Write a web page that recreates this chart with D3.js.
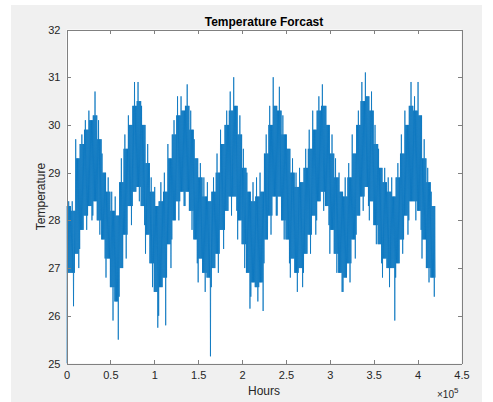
<!DOCTYPE html>
<html>
<head>
<meta charset="utf-8">
<script src="https://cdn.jsdelivr.net/npm/d3@7/dist/d3.min.js"></script>
<style>
  html, body { margin: 0; padding: 0; background: #ffffff; }
  svg { display: block; }
  text { font-family: "Liberation Sans", Arial, Helvetica, sans-serif; }
</style>
</head>
<body>
<svg id="chart" width="493" height="402"></svg>
<script>
// Hourly temperature record, summarised per 5000-hour block:
// spikeHigh/spikeLow = extreme excursions, bandTop/bandBottom = edges of the dense band.
const blockHours = 5000;
const spikeHigh = [28.4,28.4,29.7,29.8,30.1,30.3,30.7,30.1,29.4,28.9,28.6,28.5,29.3,29.8,30.2,30.9,30.9,30.4,29.6,28.9,
             28.7,28.8,29.0,29.6,30.1,30.6,30.6,30.85,30.3,29.7,29.2,28.9,28.8,28.9,29.4,29.9,30.3,30.7,31.0,30.2,
             29.5,29.0,28.8,28.9,29.0,29.8,30.4,31.0,30.8,30.2,29.8,29.3,29.0,29.1,29.5,29.9,30.3,30.6,30.85,30.4,
             29.8,29.3,29.0,28.9,29.2,29.8,30.3,30.9,31.1,30.7,30.0,29.5,29.1,28.9,28.9,29.2,29.8,30.3,30.9,30.6,
             30.9,29.7,29.1,28.6];
const bandTop = [28.3,28.2,29.3,29.6,29.9,30.1,30.2,29.7,29.0,28.6,28.2,28.1,28.8,29.5,30.0,30.4,30.5,30.0,29.2,28.6,
             28.3,28.4,28.6,29.3,29.8,30.2,30.3,30.4,29.9,29.3,28.9,28.5,28.4,28.6,29.0,29.6,30.0,30.3,30.4,29.8,
             29.1,28.6,28.4,28.5,28.6,29.4,30.0,30.4,30.3,29.8,29.5,29.0,28.7,28.8,29.1,29.5,29.9,30.3,30.4,30.0,
             29.4,28.9,28.6,28.5,28.9,29.4,30.0,30.5,30.6,30.3,29.6,29.1,28.8,28.6,28.5,28.9,29.4,30.0,30.4,30.3,
             30.2,29.3,28.8,28.3];
const bandBottom = [26.9,26.9,27.3,27.8,28.1,28.3,28.4,28.0,27.6,27.2,26.6,26.3,27.0,27.7,28.3,28.6,28.7,28.3,27.7,27.1,
             26.5,26.6,26.8,27.5,28.0,28.4,28.6,28.6,28.2,27.6,27.2,26.9,26.8,27.0,27.3,27.8,28.2,28.5,28.5,28.0,
             27.5,26.9,26.7,26.6,26.7,27.6,28.1,28.5,28.5,28.0,27.6,27.2,26.9,27.0,27.3,27.7,28.1,28.4,28.6,28.3,
             27.8,27.3,26.9,26.8,27.1,27.6,28.1,28.5,28.7,28.4,27.9,27.5,27.2,27.0,27.0,27.1,27.6,28.1,28.4,28.4,
             28.2,27.6,27.0,26.8];
const spikeLow = [25.0,26.2,27.0,27.4,27.8,28.0,28.1,27.7,27.2,26.8,25.9,25.5,26.4,27.2,27.9,28.3,28.4,27.9,27.3,26.6,
             25.75,26.0,25.8,27.0,27.6,28.0,28.3,28.3,27.8,27.1,26.7,26.5,25.15,26.6,26.9,27.4,27.8,28.1,28.2,27.6,
             27.0,26.15,26.4,26.3,26.1,27.1,27.7,28.1,28.1,27.6,27.1,26.8,26.5,26.6,26.9,27.3,27.7,28.0,28.2,27.9,
             27.3,26.9,26.5,26.5,26.7,27.2,27.7,28.2,28.3,28.0,27.5,27.1,26.8,26.6,25.9,26.8,27.3,27.7,28.0,28.0,
             27.8,27.2,26.7,26.4];

const xTicks = [0, 0.5e5, 1e5, 1.5e5, 2e5, 2.5e5, 3e5, 3.5e5, 4e5, 4.5e5];
const yTicks = [25, 26, 27, 28, 29, 30, 31, 32];

const svg = d3.select("#chart");
const W = 493, H = 402;
const plot = { left: 66.5, right: 461.5, top: 29.5, bottom: 363.5 };

// figure background
svg.append("rect").attr("x", 11).attr("y", 5).attr("width", 471).attr("height", H - 5)
  .attr("fill", "#f0f0f0");
// axes background
svg.append("rect").attr("x", plot.left).attr("y", plot.top)
  .attr("width", plot.right - plot.left).attr("height", plot.bottom - plot.top)
  .attr("fill", "#ffffff");

const x = d3.scaleLinear().domain([0, 4.5e5]).range([plot.left, plot.right]);
const y = d3.scaleLinear().domain([25, 32]).range([plot.bottom, plot.top]);

// Expand each block into a run of readings that sweep its band and excursions.
const patterns = [
  ["lo", "top", "bot", "top", "bot", "hi", "bot", "top", "bot", "top"],
  ["bot", "top", "bot", "hi", "bot", "top", "lo", "top", "bot", "top"],
  ["bot", "hi", "bot", "top", "bot", "top", "bot", "top", "lo", "top"]
];
const cols = { hi: spikeHigh, top: bandTop, bot: bandBottom, lo: spikeLow };
const series = [];
spikeHigh.forEach((_, i) => {
  const pat = patterns[i % 3];
  pat.forEach((k, j) => {
    series.push({ h: i * blockHours + j * blockHours / pat.length, v: cols[k][i] });
  });
});
series.push({ h: spikeHigh.length * blockHours, v: bandBottom[bandBottom.length - 1] });

svg.append("clipPath").attr("id", "clip").append("rect")
  .attr("x", plot.left).attr("y", plot.top)
  .attr("width", plot.right - plot.left).attr("height", plot.bottom - plot.top);

svg.append("path")
  .datum(series)
  .attr("clip-path", "url(#clip)")
  .attr("fill", "none")
  .attr("stroke", "#0072BD")
  .attr("stroke-width", 0.75)
  .attr("stroke-linejoin", "miter")
  .attr("d", d3.line().x(d => x(d.h)).y(d => y(d.v)));

const axisColor = "#808080";
const labelColor = "#262626";

function styleAxis(g) {
  g.selectAll(".domain").attr("stroke", axisColor).attr("shape-rendering", "crispEdges");
  g.selectAll(".tick line").attr("stroke", axisColor).attr("shape-rendering", "crispEdges");
  g.selectAll(".tick text").attr("fill", labelColor).style("font-size", "11px")
    .style("font-family", "'Liberation Sans', Arial, sans-serif");
}

svg.append("g").attr("transform", `translate(0,${plot.bottom})`)
  .call(d3.axisBottom(x).tickValues(xTicks).tickFormat(d => d / 1e5)
    .tickSizeInner(-4).tickSizeOuter(0).tickPadding(7.5))
  .call(styleAxis);
svg.append("g").attr("transform", `translate(0,${plot.top})`)
  .call(d3.axisTop(x).tickValues(xTicks).tickFormat("")
    .tickSizeInner(-4).tickSizeOuter(0))
  .call(styleAxis);
svg.append("g").attr("transform", `translate(${plot.left},0)`)
  .call(d3.axisLeft(y).tickValues(yTicks).tickFormat(d3.format("d"))
    .tickSizeInner(-4).tickSizeOuter(0).tickPadding(6))
  .call(styleAxis);
svg.append("g").attr("transform", `translate(${plot.right},0)`)
  .call(d3.axisRight(y).tickValues(yTicks).tickFormat("")
    .tickSizeInner(-4).tickSizeOuter(0))
  .call(styleAxis);

// title and axis labels
svg.append("text").attr("x", (plot.left + plot.right) / 2).attr("y", 26)
  .attr("text-anchor", "middle").attr("font-size", "12px").attr("font-weight", "bold")
  .attr("fill", "#000").text("Temperature Forcast");

svg.append("text").attr("x", (plot.left + plot.right) / 2).attr("y", 395)
  .attr("text-anchor", "middle").attr("font-size", "12px")
  .attr("fill", labelColor).text("Hours");

svg.append("text")
  .attr("transform", `translate(45,${(plot.top + plot.bottom) / 2}) rotate(-90)`)
  .attr("text-anchor", "middle").attr("font-size", "12px")
  .attr("fill", labelColor).text("Temperature");

// exponent marker for the x axis
const ex = svg.append("text").attr("x", 437).attr("y", 398)
  .attr("font-size", "10px").attr("fill", labelColor);
ex.append("tspan").text("\u00d710");
ex.append("tspan").attr("dy", -5).attr("font-size", "8px").text("5");
</script>
</body>
</html>
